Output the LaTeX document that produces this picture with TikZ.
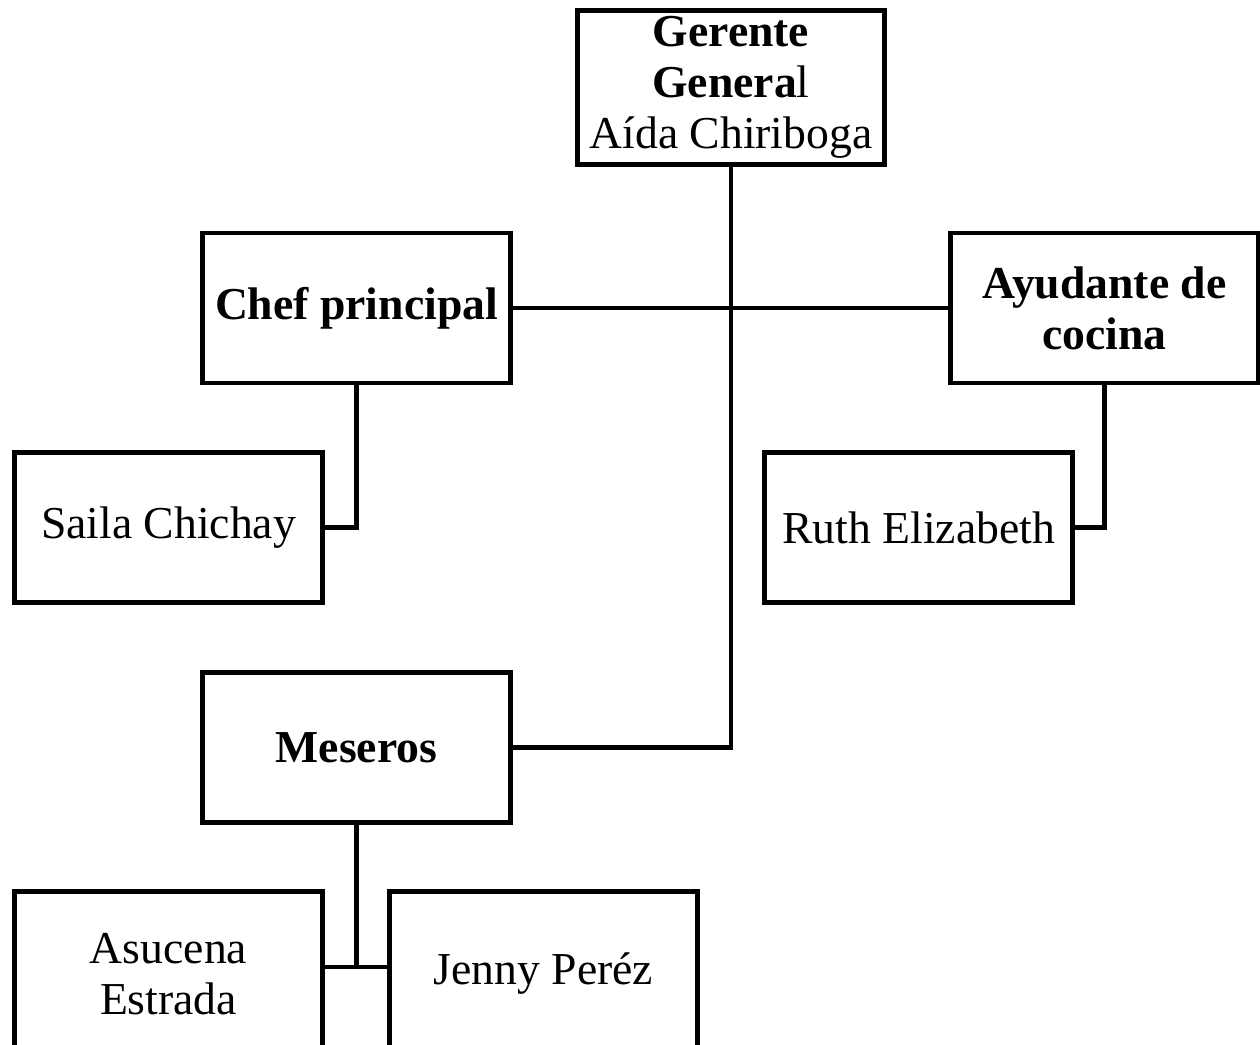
\documentclass[tikz,border=0pt]{standalone}
\usepackage{fontspec}
\setmainfont{Liberation Serif}

\begin{document}
\begin{tikzpicture}[x=0.02cm, y=-0.02cm,
  puesto/.style={draw, line width=2.8pt, minimum width=6.15cm, minimum height=3.0cm, align=center, font=\fontsize{26}{29}\selectfont},
  enlace/.style={line width=2.8pt}]
\clip (0,0) rectangle (1260,1044);

\node[puesto] (gerente) at (731,87.5) {\textbf{Gerente}\\\textbf{Genera}l\\Aída Chiriboga};
\node[puesto] (chef) at (356.5,308) {\textbf{Chef principal}};
\node[puesto] (ayudante) at (1104.5,308) {\textbf{Ayudante de}\\\textbf{cocina}};
\node[puesto] (saila) at (168.5,527.5) {Saila Chichay};
\node[puesto] (ruth) at (918.5,527.5) {Ruth Elizabeth};
\node[puesto] (meseros) at (356.5,747.5) {\textbf{Meseros}};
\node[puesto, minimum height=3.3cm] (asucena) at (168.5,974) {Asucena\\Estrada};
\node[puesto, minimum height=3.3cm] (jenny) at (543.5,974) {Jenny Peréz};
\coordinate (union) at (356.5,967);

\draw[enlace] (gerente) -- (gerente |- meseros) -- (meseros);
\draw[enlace] (chef) -- (ayudante);
\draw[enlace] (chef) -- (chef |- saila) -- (saila);
\draw[enlace] (ayudante) -- (ayudante |- ruth) -- (ruth);
\draw[enlace] (meseros) -- (union);
\draw[enlace] (asucena.east |- union) -- (jenny.west |- union);
\end{tikzpicture}
\end{document}
